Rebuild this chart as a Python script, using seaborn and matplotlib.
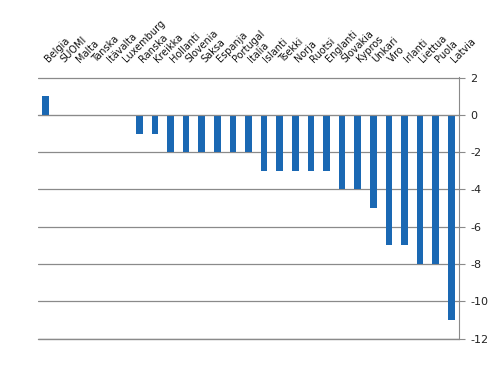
import numpy as np
import pandas as pd
import seaborn as sns
import matplotlib as mpl
import matplotlib.pyplot as plt

# Data
countries = ['Belgia', 'SUOMI', 'Malta', 'Tanska', 'Itävalta', 'Luxemburg',
             'Ranska', 'Kreikka', 'Hollanti', 'Slovenia', 'Saksa', 'Espanja',
             'Portugal', 'Italia', 'Islanti', 'Tsekki', 'Norja', 'Ruotsi',
             'Englanti', 'Slovakia', 'Kypros', 'Unkari', 'Viro', 'Irlanti',
             'Liettua', 'Puola', 'Latvia']
change = [1, 0, 0, 0, 0, 0,
          -1, -1, -2, -2, -2, -2,
          -2, -2, -3, -3, -3, -3,
          -3, -4, -4, -5, -7, -7,
          -8, -8, -11]
yticks = [2, 0, -2, -4, -6, -8, -10, -12]

df = pd.DataFrame({'country': countries, 'change': change})

sns.set_style('white')
mpl.rcParams['axes.unicode_minus'] = False
mpl.rcParams['font.family'] = ['DejaVu Sans']

fig = plt.figure(figsize=(4.98, 3.76), dpi=100)
ax = fig.add_axes([0.076, 0.098, 0.846, 0.697])

sns.barplot(data=df, x='country', y='change', color='#1A68B3',
            saturation=1, width=0.42, linewidth=0, ax=ax)

grey = '#8a8a8a'

# y axis on the right
ax.set_ylim(-12.03, 2.03)
ax.set_yticks(yticks)
ax.yaxis.tick_right()
ax.tick_params(axis='y', direction='out', length=4, color=grey,
               labelsize=8, pad=4, labelcolor='#222222')
ax.grid(axis='y', color=grey, linewidth=0.9)
ax.axhline(yticks[-1], color=grey, linewidth=1.0, clip_on=False, zorder=0)
ax.set_axisbelow(True)

# x axis through zero, category labels on top
ax.set_xlim(-0.5, len(countries) - 0.5)
ax.spines['bottom'].set_position(('data', 0))
ax.spines['bottom'].set_color(grey)
ax.spines['right'].set_color(grey)
ax.spines['left'].set_visible(False)
ax.spines['top'].set_visible(False)
ax.set_xticks(np.arange(-0.5, len(countries), 1))
ax.set_xticklabels([])
ax.tick_params(axis='x', direction='out', length=3, color=grey, width=0.9)
ax.set_xlabel('')
ax.set_ylabel('')

for i, name in enumerate(countries):
    ax.text(i + 0.3, 1.05, name, transform=ax.get_xaxis_transform(),
            rotation=45, rotation_mode='anchor', ha='left', va='bottom',
            fontsize=7, color='#111111')

fig.savefig('out.png', dpi=100)
